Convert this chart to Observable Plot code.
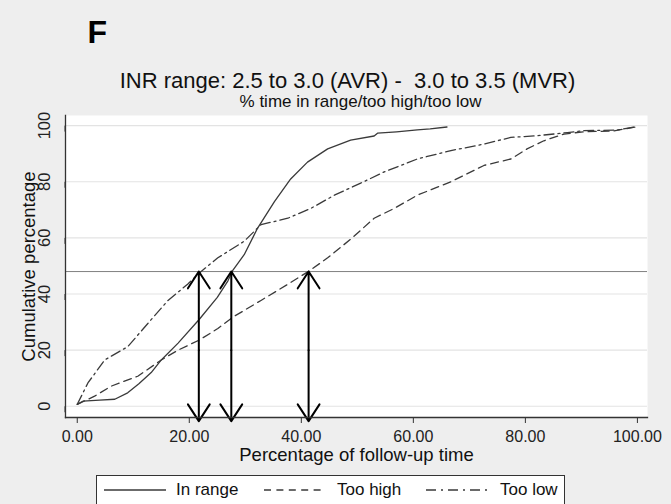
<!DOCTYPE html>
<html><head><meta charset="utf-8">
<script src="https://cdn.jsdelivr.net/npm/d3@7"></script>
<script src="https://cdn.jsdelivr.net/npm/@observablehq/plot@0.6"></script>
<style>
body{margin:0;background:#eeeeee}
#wrap{position:relative;width:671px;height:504px;overflow:hidden;background:#eeeeee;font-family:"Liberation Sans",Arial,sans-serif}
#legend{position:absolute;left:96px;top:475px;width:469px;height:44px;background:#fff;border:1.5px solid #333;box-sizing:border-box}
#legend svg{position:absolute;left:0;top:0}
.lab{position:absolute;top:4px;font-size:17px;color:#111;line-height:20px;white-space:nowrap}
</style></head>
<body><div id="wrap"><div id="chart"></div>
<div id="legend"></div></div>
<script>
const panelLetter = "F";
const title = "INR range: 2.5 to 3.0 (AVR) -  3.0 to 3.5 (MVR)";
const subtitle = "% time in range/too high/too low";
const xLabel = "Percentage of follow-up time";
const yLabel = "Cumulative percentage";
const xTicks = [0, 20, 40, 60, 80, 100];
const yTicks = [0, 20, 40, 60, 80, 100];
const refLevel = [48];
const arrowX = [21.7, 27.5, 41.3];
const seriesNames = ["In range", "Too high", "Too low"];

const inRangeX = [0, 1, 4, 6.7, 9, 11, 13.2, 15, 18, 21.8, 25, 26.9, 27.7, 29.8, 32.2, 35.2, 38.1, 41.1, 44.7, 48.8, 53, 53.6, 57, 60.7, 63, 66];
const inRangeY = [0.7, 1.8, 2.2, 2.5, 4.8, 8, 12, 16.5, 22.5, 31, 38.8, 44.7, 48.2, 54, 63.5, 72.9, 81, 87, 91.7, 94.8, 96.3, 97.3, 97.8, 98.5, 98.8, 99.5];

const tooHighX = [0, 3.1, 6.1, 10.8, 15, 18, 21.8, 25.1, 27.8, 32.8, 37.6, 41.4, 44.7, 48.8, 53, 56.6, 60.7, 66.7, 72.6, 77.4, 80.3, 83.3, 86.9, 90.4, 95.8, 99.6];
const tooHighY = [0.7, 3.6, 7.2, 10.7, 16.5, 20, 23.6, 27.7, 31.8, 37.7, 43.5, 48.2, 52.9, 59.5, 67, 70.5, 75.2, 80, 85.8, 88.1, 91.7, 94.6, 97, 97.8, 98.1, 99.5];

const tooLowX = [0, 1.9, 4.9, 9, 12.6, 16.2, 19.7, 21.8, 25.1, 29.8, 32.8, 37.6, 41.7, 45.9, 50.6, 54.8, 60.7, 66.7, 72.6, 77.4, 82.1, 87.5, 90.4, 96.3, 99.6];
const tooLowY = [0.7, 8.3, 16.5, 21.2, 29.5, 37.7, 43.5, 47.5, 52.9, 58.8, 64.7, 67, 70.5, 75.2, 79.5, 83.5, 88.1, 91.1, 93.4, 95.8, 96.4, 97.5, 98.2, 98.4, 99.6];

const dashes = {"In range": null, "Too high": "8,5", "Too low": "10,4,2,4"};
const legendDashes = {"In range": null, "Too high": "7,5.4", "Too low": "10,5,2,5"};

const series = [
  {name: seriesNames[0], xs: inRangeX, ys: inRangeY},
  {name: seriesNames[1], xs: tooHighX, ys: tooHighY},
  {name: seriesNames[2], xs: tooLowX, ys: tooLowY}
];

const lineMarks = series.map(s => Plot.line(s.xs.map((x, i) => ({x, y: s.ys[i]})), {
  x: "x", y: "y", stroke: "#3a3a3a", strokeWidth: 1.3,
  strokeDasharray: dashes[s.name], curve: "linear"
}));

const arrowsUp = arrowX.map(x => ({x, y1: 20, y2: refLevel[0]}));
const arrowsDown = arrowX.map(x => ({x, y1: 20, y2: -5.3}));

const chart = Plot.plot({
  width: 671, height: 504,
  marginLeft: 65, marginRight: 24, marginTop: 115, marginBottom: 87,
  x: {domain: [-2.1, 101.8]},
  y: {domain: [-4.0, 103.6]},
  style: {background: "transparent", fontFamily: "'Liberation Sans', Arial, sans-serif", color: "#222"},
  marks: [
    Plot.frame({fill: "white", stroke: null}),
    Plot.gridY(yTicks, {stroke: "#e3e3e3", strokeOpacity: 1, strokeWidth: 1.2}),
    Plot.ruleY(refLevel, {stroke: "#808080", strokeWidth: 1}),
    ...lineMarks,
    Plot.arrow(arrowsUp, {x1: "x", x2: "x", y1: "y1", y2: "y2", stroke: "black", strokeWidth: 2, headAngle: 66, headLength: 15}),
    Plot.arrow(arrowsDown, {x1: "x", x2: "x", y1: "y1", y2: "y2", stroke: "black", strokeWidth: 2, headAngle: 66, headLength: 15}),
    Plot.axisX(xTicks, {tickFormat: d3.format(".2f"), tickSize: 6, tickPadding: 7, fontSize: 16, stroke: "#333", label: null, color: "#222"}),
    Plot.axisY(yTicks, {tickFormat: d => String(d), tickSize: 6, tickPadding: 15, fontSize: 16.5, rotate: -90, textAnchor: "middle", lineAnchor: "middle", stroke: "#333", label: null}),
    Plot.frame({anchor: "left", stroke: "#333", strokeWidth: 1.3}),
    Plot.frame({anchor: "bottom", stroke: "#333", strokeWidth: 1.3}),
    Plot.text([xLabel], {frameAnchor: "bottom", dy: 38, fontSize: 18.5, lineAnchor: "middle", fill: "#111"}),
    Plot.text([yLabel], {frameAnchor: "left", dx: -36, rotate: -90, textAnchor: "middle", fontSize: 18.5, lineAnchor: "middle", fill: "#111"}),
    Plot.text([title], {frameAnchor: "top", dx: -9, dy: -28, fontSize: 22, lineAnchor: "bottom", fill: "#111"}),
    Plot.text([subtitle], {frameAnchor: "top", dx: 4, dy: -9, fontSize: 17, lineAnchor: "bottom", fill: "#111"}),
    Plot.text([panelLetter], {frameAnchor: "top-left", textAnchor: "start", dx: 22, dy: -73, fontSize: 32, fontWeight: "bold", lineAnchor: "bottom", fill: "#000"})
  ]
});
document.getElementById("chart").appendChild(chart);

// legend
const legend = document.getElementById("legend");
const lpos = [
  {s: 7, e: 69, t: 79},
  {s: 167, e: 229, t: 240},
  {s: 329, e: 392, t: 403}
];
const ns = "http://www.w3.org/2000/svg";
const svg = document.createElementNS(ns, "svg");
svg.setAttribute("width", 466); svg.setAttribute("height", 40);
seriesNames.forEach((n, i) => {
  const ln = document.createElementNS(ns, "line");
  ln.setAttribute("x1", lpos[i].s); ln.setAttribute("x2", lpos[i].e);
  ln.setAttribute("y1", 14); ln.setAttribute("y2", 14);
  ln.setAttribute("stroke", "#3a3a3a"); ln.setAttribute("stroke-width", 1.3);
  if (legendDashes[n]) ln.setAttribute("stroke-dasharray", legendDashes[n]);
  svg.appendChild(ln);
  const sp = document.createElement("span");
  sp.className = "lab"; sp.style.left = lpos[i].t + "px"; sp.textContent = n;
  legend.appendChild(sp);
});
legend.appendChild(svg);
</script></body></html>
